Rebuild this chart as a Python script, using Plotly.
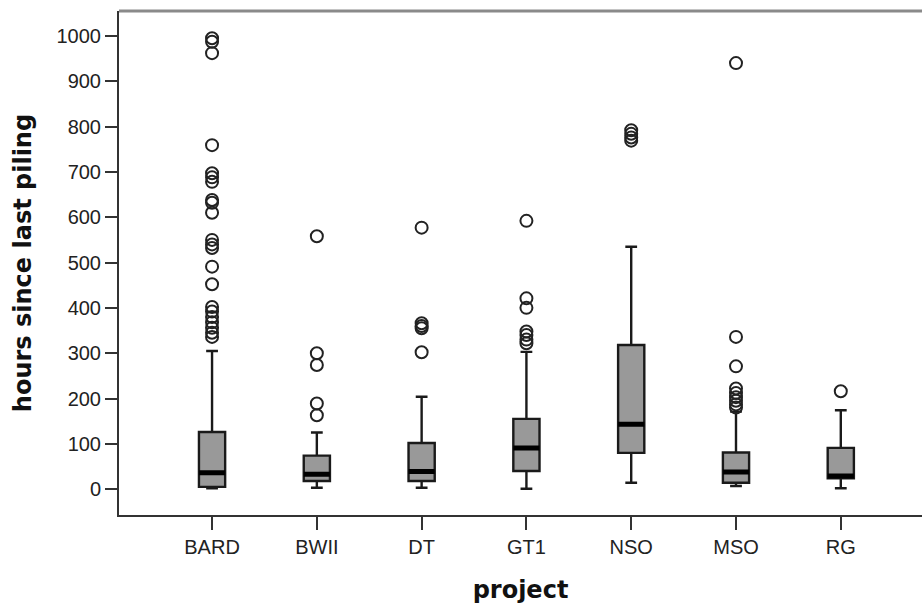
import plotly.graph_objects as go

categories = ["BARD", "BWII", "DT", "GT1", "NSO", "MSO", "RG"]
q1 = [5, 18, 18, 40, 80, 14, 24]
median = [36, 33, 39, 91, 143, 38, 29]
q3 = [126, 74, 102, 155, 318, 81, 91]
lower_whisker = [2, 3, 3, 1, 14, 7, 2]
upper_whisker = [305, 125, 204, 303, 535, 171, 174]

outliers_bard = [995, 987, 962, 759, 697, 688, 678, 638, 632, 610, 550, 540, 532,
                 491, 452, 402, 392, 380, 368, 356, 345, 336]
outliers_bwii = [558, 300, 274, 189, 163]
outliers_dt = [577, 366, 360, 355, 302]
outliers_gt1 = [592, 421, 400, 348, 340, 330, 322]
outliers_nso = [792, 784, 776, 769]
outliers_mso = [940, 336, 271, 222, 212, 203, 195, 187, 180]
outliers_rg = [216]

y_ticks = [0, 100, 200, 300, 400, 500, 600, 700, 800, 900, 1000]

outliers = [outliers_bard, outliers_bwii, outliers_dt, outliers_gt1,
            outliers_nso, outliers_mso, outliers_rg]

fig = go.Figure()

fig.add_trace(go.Box(
    x=categories, q1=q1, median=median, q3=q3,
    lowerfence=lower_whisker, upperfence=upper_whisker,
    width=0.25, whiskerwidth=0.45,
    fillcolor="#999999",
    line=dict(color="#1a1a1a", width=2.4),
    showlegend=False, hoverinfo="skip",
))

# thick median bars
fig.add_trace(go.Box(
    x=categories, q1=median, median=median, q3=median,
    lowerfence=median, upperfence=median,
    width=0.25, whiskerwidth=0,
    fillcolor="#000000",
    line=dict(color="#000000", width=5),
    showlegend=False, hoverinfo="skip",
))

ox, oy = [], []
for cat, vals in zip(categories, outliers):
    ox += [cat] * len(vals)
    oy += vals

fig.add_trace(go.Scatter(
    x=ox, y=oy, mode="markers",
    marker=dict(symbol="circle-open", size=12, color="#222222",
                line=dict(width=2, color="#222222")),
    showlegend=False, hoverinfo="skip",
))

tick_font = dict(family="Liberation Sans, Arial, sans-serif", size=20, color="#222222")
title_font = dict(family="DejaVu Sans, sans-serif", size=24, color="#111111", weight="bold")

fig.update_layout(
    width=922, height=604,
    margin=dict(l=119, r=0, t=11, b=89),
    plot_bgcolor="white", paper_bgcolor="white",
    boxmode="overlay",
    xaxis=dict(
        type="category", categoryorder="array", categoryarray=categories,
        range=[-0.888, 6.775],
        showline=True, linecolor="#333333", linewidth=2,
        ticks="outside", ticklen=13, tickwidth=2, tickcolor="#333333",
        tickfont=tick_font, showgrid=False, zeroline=False,
        title=dict(text="project", font=title_font, standoff=24),
    ),
    yaxis=dict(
        range=[-57, 1055],
        tickvals=y_ticks,
        showline=True, linecolor="#333333", linewidth=2,
        ticks="outside", ticklen=12, tickwidth=2, tickcolor="#333333",
        tickfont=tick_font, showgrid=False, zeroline=False,
        title=dict(text="hours since last piling", font=title_font, standoff=18),
    ),
    shapes=[dict(type="line", xref="paper", yref="paper", x0=0, x1=1, y0=1, y1=1,
                 line=dict(color="#8a8a8a", width=3))],
)

fig.write_html("out.html")
